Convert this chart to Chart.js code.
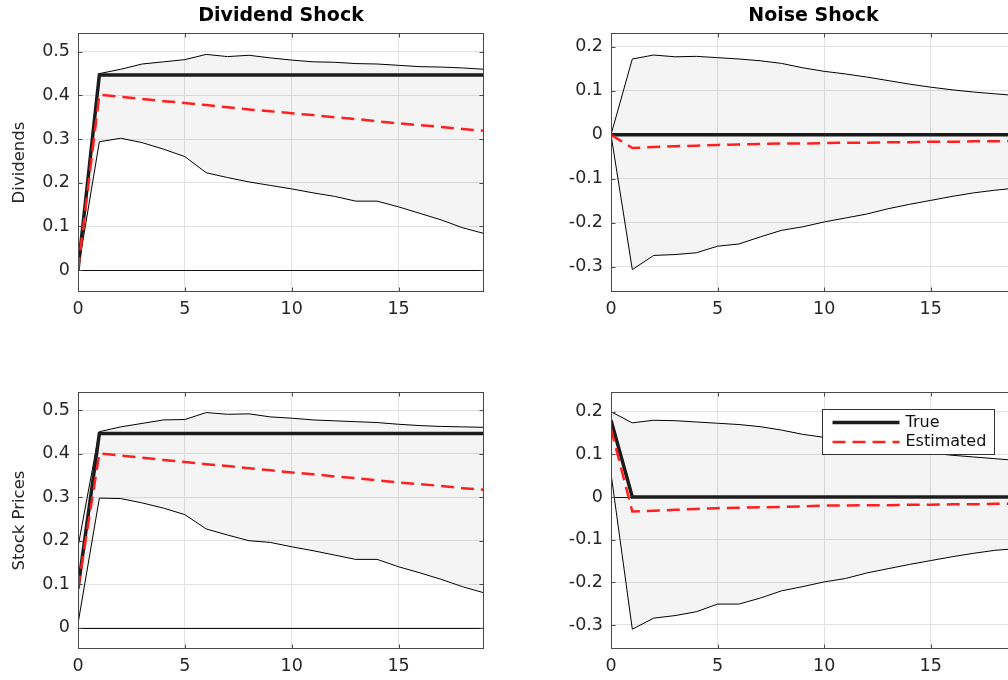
<!DOCTYPE html>
<html>
<head>
<meta charset="utf-8">
<script src="https://cdn.jsdelivr.net/npm/chart.js@4.4.1/dist/chart.umd.min.js"></script>
<style>
    html, body { margin: 0; padding: 0; overflow: hidden; background: #fff; width: 1008px; height: 680px; }
    .panel { position: absolute; }
</style>
</head>
<body>
<div class="panel" style="left:0;top:0;width:490px;height:330px"><canvas id="divDiv"></canvas></div>
<div class="panel" style="left:530px;top:0;width:492px;height:330px"><canvas id="noiseDiv"></canvas></div>
<div class="panel" style="left:0;top:360px;width:490px;height:320px"><canvas id="divPrice"></canvas></div>
<div class="panel" style="left:530px;top:360px;width:492px;height:320px"><canvas id="noisePrice"></canvas></div>
<script>
// horizon (periods after the shock)
const periods = [0, 1, 2, 3, 4, 5, 6, 7, 8, 9, 10, 11, 12, 13, 14, 15, 16, 17, 18, 19];
const xTicks = [0, 5, 10, 15];
const divYTicks = [0, 0.1, 0.2, 0.3, 0.4, 0.5];
const noiseYTicks = [-0.3, -0.2, -0.1, 0, 0.1, 0.2];

// dividend shock -> dividends
const divDivTrue = [0, 0.447, 0.447, 0.447, 0.447, 0.447, 0.447, 0.447, 0.447, 0.447, 0.447, 0.447, 0.447, 0.447, 0.447, 0.447, 0.447, 0.447, 0.447, 0.447];
const divDivEst = [0, 0.402, 0.397, 0.392, 0.387, 0.383, 0.378, 0.373, 0.368, 0.364, 0.359, 0.355, 0.350, 0.346, 0.341, 0.336, 0.332, 0.328, 0.323, 0.319];
const divDivUpper = [0, 0.450, 0.460, 0.472, 0.477, 0.482, 0.494, 0.489, 0.492, 0.486, 0.481, 0.477, 0.476, 0.473, 0.472, 0.469, 0.466, 0.465, 0.463, 0.460];
const divDivLower = [0, 0.294, 0.302, 0.292, 0.277, 0.260, 0.223, 0.212, 0.202, 0.194, 0.186, 0.177, 0.169, 0.158, 0.158, 0.145, 0.130, 0.115, 0.097, 0.084];

// noise shock -> dividends
const noiseDivTrue = [0, 0, 0, 0, 0, 0, 0, 0, 0, 0, 0, 0, 0, 0, 0, 0, 0, 0, 0, 0];
const noiseDivEst = [0, -0.030, -0.028, -0.026, -0.025, -0.023, -0.022, -0.021, -0.020, -0.020, -0.019, -0.018, -0.018, -0.017, -0.017, -0.016, -0.016, -0.015, -0.015, -0.014];
const noiseDivUpper = [0, 0.172, 0.181, 0.177, 0.178, 0.175, 0.172, 0.168, 0.162, 0.152, 0.144, 0.138, 0.131, 0.123, 0.115, 0.108, 0.102, 0.097, 0.093, 0.089];
const noiseDivLower = [0, -0.306, -0.274, -0.272, -0.268, -0.253, -0.248, -0.232, -0.217, -0.209, -0.198, -0.189, -0.180, -0.168, -0.158, -0.149, -0.140, -0.132, -0.126, -0.121];

// dividend shock -> stock prices
const divPriceTrue = [0.090, 0.447, 0.447, 0.447, 0.447, 0.447, 0.447, 0.447, 0.447, 0.447, 0.447, 0.447, 0.447, 0.447, 0.447, 0.447, 0.447, 0.447, 0.447, 0.447];
const divPriceEst = [0.090, 0.401, 0.396, 0.391, 0.386, 0.381, 0.376, 0.372, 0.367, 0.362, 0.357, 0.353, 0.348, 0.344, 0.339, 0.334, 0.330, 0.326, 0.321, 0.317];
const divPriceUpper = [0.186, 0.451, 0.462, 0.470, 0.478, 0.479, 0.495, 0.491, 0.492, 0.485, 0.482, 0.478, 0.476, 0.474, 0.472, 0.468, 0.465, 0.463, 0.462, 0.461];
const divPriceLower = [0.009, 0.298, 0.297, 0.287, 0.275, 0.260, 0.227, 0.213, 0.200, 0.196, 0.186, 0.177, 0.167, 0.157, 0.157, 0.140, 0.126, 0.111, 0.094, 0.080];

// noise shock -> stock prices
const noisePriceTrue = [0.180, 0, 0, 0, 0, 0, 0, 0, 0, 0, 0, 0, 0, 0, 0, 0, 0, 0, 0, 0];
const noisePriceEst = [0.160, -0.034, -0.032, -0.030, -0.028, -0.026, -0.025, -0.024, -0.023, -0.022, -0.020, -0.020, -0.019, -0.019, -0.018, -0.018, -0.017, -0.017, -0.016, -0.016];
const noisePriceUpper = [0.200, 0.174, 0.180, 0.179, 0.176, 0.173, 0.170, 0.165, 0.157, 0.147, 0.140, 0.133, 0.126, 0.118, 0.110, 0.103, 0.098, 0.094, 0.090, 0.086];
const noisePriceLower = [0.055, -0.310, -0.284, -0.278, -0.269, -0.251, -0.251, -0.237, -0.220, -0.210, -0.199, -0.191, -0.178, -0.168, -0.158, -0.149, -0.140, -0.132, -0.125, -0.121];

const FONT = "'DejaVu Sans', sans-serif";
const TEXT = "#262626";

// zero line over the band + box with inward ticks (matlab look)
const axesBox = {
    id: "axesBox",
    afterDatasetDraw(chart, args) {
        if (args.index !== 3) return;
        const { ctx, chartArea: a, scales: { y } } = chart;
        const py = Math.round(y.getPixelForValue(0)) + 0.5;
        ctx.save();
        ctx.strokeStyle = "#111";
        ctx.lineWidth = 1;
        ctx.beginPath();
        ctx.moveTo(a.left, py);
        ctx.lineTo(a.right, py);
        ctx.stroke();
        ctx.restore();
    },
    afterDatasetsDraw(chart) {
        const { ctx, chartArea: a, scales: { x, y } } = chart;
        const l = Math.round(a.left) + 0.5;
        const r = Math.round(a.right) - 0.5;
        const t = Math.round(a.top) + 0.5;
        const b = Math.round(a.bottom) - 0.5;
        ctx.save();
        ctx.strokeStyle = "#4a4a4a";
        ctx.lineWidth = 1;
        ctx.strokeRect(l, t, r - l, b - t);
        ctx.beginPath();
        x.ticks.forEach(tk => {
            const px = Math.round(x.getPixelForValue(tk.value)) + 0.5;
            ctx.moveTo(px, b); ctx.lineTo(px, b - 4);
            ctx.moveTo(px, t); ctx.lineTo(px, t + 4);
        });
        y.ticks.forEach(tk => {
            const py = Math.round(y.getPixelForValue(tk.value)) + 0.5;
            ctx.moveTo(l, py); ctx.lineTo(l + 4, py);
            ctx.moveTo(r, py); ctx.lineTo(r - 4, py);
        });
        ctx.stroke();
        ctx.restore();
    },
};

// boxed legend inside the plot, like matlab's
const legendBox = {
    id: "legendBox",
    afterDraw(chart) {
        const { ctx, chartArea: a } = chart;
        const left = Math.round(a.left + 211) + 0.5;
        const top = Math.round(a.top + 17) + 0.5;
        const w = 172, h = 45;
        ctx.save();
        ctx.fillStyle = "#fff";
        ctx.fillRect(left, top, w, h);
        ctx.strokeStyle = "#333";
        ctx.lineWidth = 1;
        ctx.strokeRect(left, top, w, h);

        const items = [chart.data.datasets[1], chart.data.datasets[0]];
        items.forEach((ds, i) => {
            const cy = top + 13 + i * 19.5;
            ctx.beginPath();
            ctx.setLineDash(ds.borderDash || []);
            ctx.strokeStyle = ds.borderColor;
            ctx.lineWidth = ds.borderWidth;
            ctx.moveTo(left + 10, cy);
            ctx.lineTo(left + 77, cy);
            ctx.stroke();
            ctx.setLineDash([]);
            ctx.fillStyle = "#111";
            ctx.font = `16px ${FONT}`;
            ctx.textBaseline = "middle";
            ctx.fillText(ds.label, left + 83, cy);
        });
        ctx.restore();
    },
};

function makePanel(canvasId, cfg) {
    const toPoints = arr => periods.map((t, i) => ({ x: t, y: arr[i] }));

    new Chart(document.getElementById(canvasId), {
        type: "line",
        data: {
            datasets: [
                { label: "Estimated", data: toPoints(cfg.est), borderColor: "#ff1f1f", borderWidth: 2.5, borderDash: [13, 7] },
                { label: "True", data: toPoints(cfg.truth), borderColor: "#1c1c1c", borderWidth: 3.5 },
                { label: "upper", data: toPoints(cfg.upper), borderColor: "#000", borderWidth: 1 },
                { label: "lower", data: toPoints(cfg.lower), borderColor: "#000", borderWidth: 1, fill: "-1", backgroundColor: "rgba(0, 0, 0, 0.045)" },
            ],
        },
        options: {
            responsive: true,
            maintainAspectRatio: false,
            animation: false,
            events: [],
            elements: { point: { radius: 0 }, line: { tension: 0 } },
            layout: { padding: cfg.padding },
            plugins: {
                legend: { display: false },
                tooltip: { enabled: false },
                title: {
                    display: !!cfg.title,
                    text: cfg.title,
                    fullSize: false,
                    color: "#000",
                    font: { family: FONT, size: 19, weight: "bold" },
                    padding: { top: 4.5, bottom: 5.7 },
                },
            },
            scales: {
                x: {
                    type: "linear",
                    min: 0,
                    max: 19,
                    afterBuildTicks: s => { s.ticks = xTicks.map(v => ({ value: v })); },
                    afterFit: s => { s.height = cfg.xHeight; },
                    grid: { color: "#e2e2e2", drawTicks: false },
                    border: { display: false },
                    ticks: { color: TEXT, padding: 7, maxRotation: 0, font: { family: FONT, size: 17.5 } },
                },
                y: {
                    min: cfg.yMin,
                    max: cfg.yMax,
                    afterBuildTicks: s => { s.ticks = cfg.yTicks.map(v => ({ value: v })); },
                    afterFit: s => { s.width = cfg.yWidth; },
                    grid: { color: "#e2e2e2", drawTicks: false },
                    border: { display: false },
                    ticks: { color: TEXT, padding: 8, font: { family: FONT, size: 17.5 }, callback: v => String(v) },
                    title: {
                        display: !!cfg.yTitle,
                        text: cfg.yTitle,
                        color: TEXT,
                        font: { family: FONT, size: 16.5 },
                        padding: { top: 10, bottom: 0 },
                    },
                },
            },
        },
        plugins: cfg.legend ? [axesBox, legendBox] : [axesBox],
    });
}

makePanel("divDiv", {
    title: "Dividend Shock", yTitle: "Dividends",
    truth: divDivTrue, est: divDivEst, upper: divDivUpper, lower: divDivLower,
    yMin: -0.05, yMax: 0.543, yTicks: divYTicks,
    yWidth: 78, xHeight: 38, padding: { top: 0, right: 6, bottom: 0, left: 0 },
});

makePanel("noiseDiv", {
    title: "Noise Shock", yTitle: "",
    truth: noiseDivTrue, est: noiseDivEst, upper: noiseDivUpper, lower: noiseDivLower,
    yMin: -0.357, yMax: 0.231, yTicks: noiseYTicks,
    yWidth: 81, xHeight: 38, padding: { top: 0, right: 6, bottom: 0, left: 0 },
});

makePanel("divPrice", {
    title: "", yTitle: "Stock Prices",
    truth: divPriceTrue, est: divPriceEst, upper: divPriceUpper, lower: divPriceLower,
    yMin: -0.05, yMax: 0.543, yTicks: divYTicks,
    yWidth: 78, xHeight: 30.7, padding: { top: 31.7, right: 6, bottom: 0, left: 0 },
});

makePanel("noisePrice", {
    title: "", yTitle: "", legend: true,
    truth: noisePriceTrue, est: noisePriceEst, upper: noisePriceUpper, lower: noisePriceLower,
    yMin: -0.357, yMax: 0.247, yTicks: noiseYTicks,
    yWidth: 81, xHeight: 30.7, padding: { top: 31.7, right: 6, bottom: 0, left: 0 },
});
</script>
</body>
</html>
